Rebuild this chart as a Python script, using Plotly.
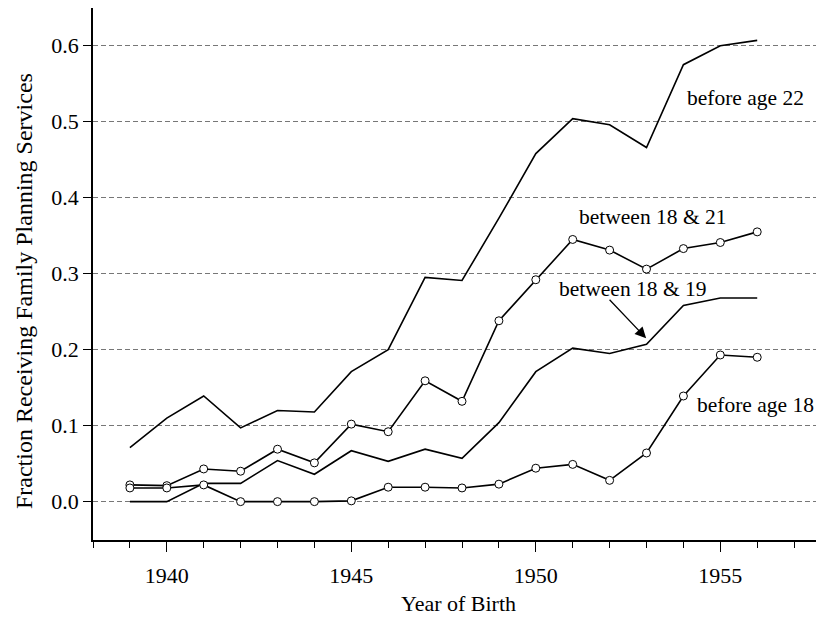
import plotly.graph_objects as go

years = list(range(1939, 1957))

before_age_22 = [0.071, 0.110, 0.139, 0.097, 0.120, 0.118, 0.171, 0.200, 0.295, 0.291,
                 0.373, 0.458, 0.504, 0.496, 0.466, 0.575, 0.600, 0.607]
between_18_21 = [0.022, 0.021, 0.043, 0.040, 0.069, 0.051, 0.102, 0.092, 0.159, 0.132,
                 0.238, 0.292, 0.345, 0.331, 0.306, 0.333, 0.341, 0.355]
between_18_19 = [0.000, 0.000, 0.024, 0.024, 0.054, 0.036, 0.067, 0.053, 0.069, 0.057,
                 0.104, 0.171, 0.202, 0.195, 0.207, 0.258, 0.268, 0.268]
before_age_18 = [0.018, 0.018, 0.022, 0.000, 0.000, 0.000, 0.001, 0.019, 0.019, 0.018,
                 0.023, 0.044, 0.049, 0.028, 0.064, 0.139, 0.193, 0.190]

x_tickvals = [1940, 1945, 1950, 1955]
y_tickvals = [0.0, 0.1, 0.2, 0.3, 0.4, 0.5, 0.6]
y_ticktext = ["0.0", "0.1", "0.2", "0.3", "0.4", "0.5", "0.6"]

FONT = "Liberation Serif, Times New Roman, serif"
LINE = dict(color="black", width=1.6)
MARK = dict(symbol="circle", size=8, color="white", line=dict(color="black", width=1))

fig = go.Figure()
fig.add_trace(go.Scatter(x=years, y=before_age_22, mode="lines", line=LINE, name="before age 22"))
fig.add_trace(go.Scatter(x=years, y=between_18_19, mode="lines", line=LINE, name="between 18 & 19"))
fig.add_trace(go.Scatter(x=years, y=between_18_21, mode="lines+markers", line=LINE, marker=MARK,
                         name="between 18 & 21"))
fig.add_trace(go.Scatter(x=years, y=before_age_18, mode="lines+markers", line=LINE, marker=MARK,
                         name="before age 18"))

afont = dict(family=FONT, size=21.5, color="black")
fig.add_annotation(x=1955.69, y=0.531, text="before age 22", showarrow=False, font=afont)
fig.add_annotation(x=1953.15, y=0.375, text="between 18 & 21", showarrow=False, font=afont)
fig.add_annotation(x=1952.63, y=0.2794, text="between 18 & 19", showarrow=False, font=afont)
fig.add_annotation(x=1955.94, y=0.127, text="before age 18", showarrow=False, font=afont)
fig.add_annotation(x=1952.99, y=0.215, text="", showarrow=True, ax=-38, ay=-40,
                   axref="pixel", ayref="pixel", arrowhead=2, arrowsize=1.7,
                   arrowwidth=1.3, arrowcolor="black", standoff=0)
# y-axis title, placed as rotated text left of the axis
fig.add_annotation(xref="paper", yref="paper", x=0, y=0.468, xshift=-69,
                   xanchor="center", yanchor="middle", textangle=-90, showarrow=False,
                   text="Fraction Receiving Family Planning Services",
                   font=dict(family=FONT, size=24, color="black"))

fig.update_layout(
    width=816, height=611,
    margin=dict(l=85, r=0, t=0, b=79),
    paper_bgcolor="white", plot_bgcolor="white",
    showlegend=False,
    font=dict(family=FONT, size=22, color="black"),
    xaxis=dict(
        range=[1938, 1957.81],
        tickvals=x_tickvals,
        ticks="outside", ticklen=10, tickwidth=1, tickcolor="black",
        minor=dict(dtick=1, tick0=1939, ticks="outside", ticklen=6, tickwidth=1, tickcolor="black"),
        showline=True, linecolor="black", linewidth=1.5, mirror=True,
        showgrid=False, zeroline=False,
        tickfont=dict(family=FONT, size=22, color="black"),
        ticklabelstandoff=5,
        automargin=False,
        title=dict(text="Year of Birth", font=dict(family=FONT, size=22, color="black"), standoff=8),
    ),
    yaxis=dict(
        range=[-0.0505, 0.6496],
        tickvals=y_tickvals, ticktext=y_ticktext,
        ticks="outside", ticklen=8, tickwidth=1, tickcolor="black",
        showline=True, linecolor="black", linewidth=1.5, mirror=False,
        showgrid=True, gridcolor="#777777", gridwidth=1, griddash="5px,3px",
        zeroline=False, automargin=False,
        tickfont=dict(family=FONT, size=22, color="black"),
    ),
)

fig.write_html("out.html")
